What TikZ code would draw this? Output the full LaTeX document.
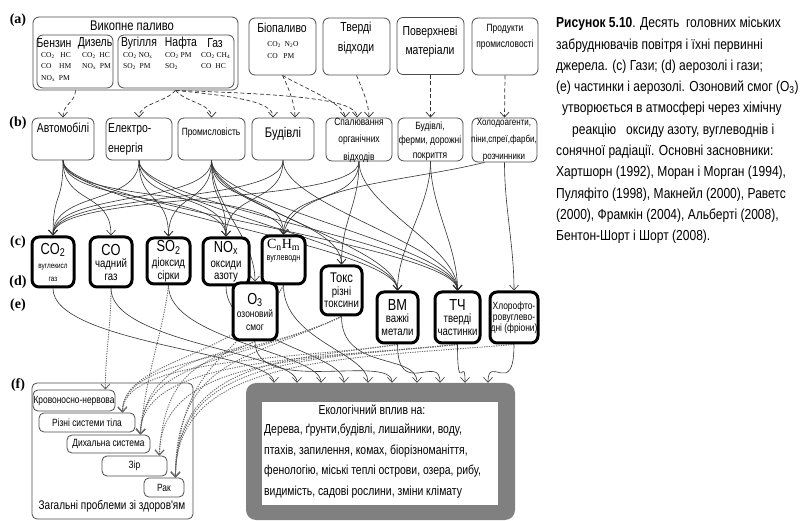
\documentclass[tikz,border=0pt]{standalone}
\usepackage{fontspec}
\usepackage{tikz}
\usetikzlibrary{arrows.meta,backgrounds}
\setmainfont{Liberation Serif}
\newfontfamily\narrow[FakeStretch=0.8]{Liberation Sans}
\newfontfamily\capfont[FakeStretch=0.83]{Liberation Sans}
\newcommand{\fsz}[2]{\fontsize{#1}{#2}\selectfont}
\newcommand{\sbs}[1]{\textsubscript{#1}}

\tikzset{
	srcbox/.style={draw=black!70, line width=0.8pt, rounded corners=6pt, fill=white, inner sep=0pt},
	polbox/.style={draw=black, line width=3pt, rounded corners=7pt, fill=white, inner sep=0pt, align=center, font=\narrow\fsz{12}{12.5}},
	hbox/.style={draw=black!70, line width=0.8pt, rounded corners=5pt, fill=white, inner sep=0pt, font=\narrow\fsz{10.5}{12}},
	txt/.style={inner sep=0pt, align=center, font=\narrow\fsz{13}{15}},
	chem/.style={inner sep=0pt, align=left, anchor=north west, font=\fsz{7.5}{11.5}},
	letter/.style={inner sep=0pt, font=\bfseries\fsz{14}{16}},
	feed/.style={black!80, line width=0.7pt, dash pattern=on 4pt off 2.5pt, -{Straight Barb[length=5pt,width=9pt]}},
	emit/.style={black!80, line width=0.6pt, -{Straight Barb[length=5pt,width=9pt]}},
	harm/.style={black!60, line width=0.9pt, dash pattern=on 1.2pt off 1.2pt, -{Straight Barb[length=5pt,width=9pt]}}
}

\begin{document}
\begin{tikzpicture}[x=1pt,y=-1pt]
	\useasboundingbox (0,0) rectangle (804,521);
	
	% Row letters
	\node[letter] (la) at (18,20) {(a)};
	\node[letter] (lb) at (18,123) {(b)};
	\node[letter] (lc) at (18,242) {(c)};
	\node[letter] (ld) at (18,282) {(d)};
	\node[letter] (le) at (18,305) {(e)};
	\node[letter] (lf) at (18,385) {(f)};
	
	% (a) primary sources
	\node[srcbox, minimum width=205pt, minimum height=73pt] (fossil) at (135.5,53.5) {}; % Fossil fuel frame
	\node[txt, font=\narrow\fsz{14}{16}] (fossilT) at (132,26) {Викопне паливо};
	\node[srcbox, minimum width=76pt, minimum height=53pt] (liquid) at (75,61.5) {};
	\node[srcbox, minimum width=116pt, minimum height=53pt] (solid) at (176,61.5) {};
	\node[txt] (benz) at (54,43) {Бензин};
	\node[txt] (dies) at (95,43) {Дизель};
	\node[txt] (coal) at (139,43) {Вугілля};
	\node[txt] (oil) at (181,43) {Нафта};
	\node[txt] (gas) at (215,43) {Газ};
	\node[chem] (benzC) at (41,52) {CO\sbs{2}\ \ \ HC\\CO\ \ \ \ HM\\NO\sbs{x}\ \ PM};
	\node[chem] (diesC) at (82,52) {CO\sbs{2}\ \ HC\\NO\sbs{x}\ \ PM};
	\node[chem] (coalC) at (123,52) {CO\sbs{2}\ NO\sbs{x}\\SO\sbs{2}\ \ PM};
	\node[chem] (oilC) at (165,52) {CO\sbs{2}\ PM\\SO\sbs{2}};
	\node[chem] (gasC) at (201,52) {CO\sbs{2}\ CH\sbs{4}\\CO\ \ HC};
	
	\node[srcbox, minimum width=67pt, minimum height=57pt] (bio) at (282.5,46.5) {};
	\node[txt] (bioT) at (282,28) {Біопаливо};
	\node[chem, anchor=center] (bioC) at (283,50) {CO\sbs{2}\ \ N\sbs{2}O\\CO\ \ \ PM};
	\node[srcbox, minimum width=67pt, minimum height=57pt] (waste) at (356.5,46.5) {};
	\node[txt, font=\narrow\fsz{13}{20}] (wasteT) at (356,38) {Тверді\\відходи};
	\node[srcbox, minimum width=67pt, minimum height=57pt] (surf) at (430.5,46) {};
	\node[txt, font=\narrow\fsz{13}{19}] (surfT) at (430,42) {Поверхневі\\матеріали};
	\node[srcbox, minimum width=66pt, minimum height=57pt] (prod) at (505,46.5) {};
	\node[txt, font=\narrow\fsz{10.5}{16}] (prodT) at (505,37) {Продукти\\промисловості};
	
	% (b) emitters
	\node[srcbox, minimum width=62pt, minimum height=42pt] (avto) at (63,139) {};
	\node[txt] (avtoT) at (63,128) {Автомобілі};
	\node[srcbox, minimum width=66pt, minimum height=42pt] (elec) at (139,139) {};
	\node[txt, align=left, anchor=west, font=\narrow\fsz{13}{20}] (elecT) at (108,139) {Електро-\\енергія};
	\node[srcbox, minimum width=67pt, minimum height=42pt] (prom) at (211.5,139) {};
	\node[txt, font=\narrow\fsz{10.5}{12}] (promT) at (211,133) {Промисловість};
	\node[srcbox, minimum width=62pt, minimum height=42pt] (bud) at (283,139) {};
	\node[txt, font=\narrow\fsz{14}{16}] (budT) at (283,134) {Будівлі};
	\node[srcbox, minimum width=66pt, minimum height=43pt] (spal) at (359,139.5) {};
	\node[txt, font=\narrow\fsz{10.5}{17.5}] (spalT) at (359,140) {Спалювання\\органічних\\відходів};
	\node[srcbox, minimum width=65pt, minimum height=43pt] (ferm) at (430.5,139.5) {};
	\node[txt, font=\narrow\fsz{10.5}{14.5}] (fermT) at (430,141) {Будівлі,\\ферми, дорожні\\покриття};
	\node[srcbox, minimum width=65pt, minimum height=44pt] (holod) at (504.5,140) {};
	\node[txt, font=\narrow\fsz{10}{17}] (holodT) at (504,140) {Холодоагенти,\\піни,спреї,фарби,\\розчинники};
	
	% (c)-(e) pollutants
	\node[polbox, minimum width=42pt, minimum height=50pt] (co2) at (53,262) {{\fsz{16}{16}CO\sbs{2}}\\[2pt]{\fsz{8}{12}вуглекисл}\\{\fsz{8}{12}газ}};
	\node[polbox, minimum width=42pt, minimum height=50pt] (co) at (111,262) {{\fsz{16}{16}CO}\\чадний\\газ};
	\node[polbox, minimum width=43pt, minimum height=46pt] (so2) at (168.5,261) {{\fsz{16}{16}SO\sbs{2}}\\[2.5pt]діоксид\\сірки};
	\node[polbox, minimum width=46pt, minimum height=47pt] (nox) at (226,261.5) {{\fsz{16}{16}NO\sbs{x}}\\[2.5pt]оксиди\\азоту};
	\node[polbox, minimum width=43pt, minimum height=48pt] (cnhm) at (283.5,260) {{\rmfamily\fsz{14}{16}C\sbs{n}H\sbs{m}}\\{\fsz{9}{14}вуглеводн}\\[8pt]};
	\node[polbox, minimum width=44pt, minimum height=57pt] (oz) at (255,311.5) {{\fsz{16}{16}O\sbs{3}}\\[1pt]{\fsz{10.5}{12}озоновий}\\{\fsz{10.5}{12}смог}};
	\node[polbox, minimum width=41pt, minimum height=49pt] (tox) at (341.5,290.5) {{\fsz{14}{13}Токс}\\різні\\токсини};
	\node[polbox, minimum width=41pt, minimum height=51pt] (vm) at (397.5,317.5) {{\fsz{16}{14}ВМ}\\важкі\\метали};
	\node[polbox, minimum width=45pt, minimum height=51pt] (tch) at (457.5,317.5) {{\fsz{16}{14}ТЧ}\\тверді\\частинки};
	\node[polbox, minimum width=48pt, minimum height=51pt, font=\narrow\fsz{10.5}{11}] (hlor) at (514,317.5) {Хлорофто-\\ровуглево-\\дні (фріони)};
	
	% (f) health
	\node[txt, font=\narrow\fsz{12.5}{14}] (hlthT) at (112,506) {Загальні проблеми зі здоров'ям};
	\node[hbox, minimum width=82pt, minimum height=21pt] (krov) at (74,400.5) {Кровоносно-нервова};
	\node[hbox, minimum width=96pt, minimum height=19pt] (rizn) at (87,422.5) {Різні системи тіла};
	\node[hbox, minimum width=83pt, minimum height=18pt] (dyh) at (108.5,444) {Дихальна система};
	\node[hbox, minimum width=65pt, minimum height=20pt] (zir) at (134.5,466) {Зір};
	\node[hbox, minimum width=40pt, minimum height=19pt] (rak) at (164,487.5) {Рак};
	\coordinate (krovIn) at ([xshift=-10pt]krov.north east);
	\coordinate (riznIn) at ([xshift=-13pt]rizn.north east);
	\coordinate (dyhIn) at ([xshift=-10pt]dyh.north east);
	\coordinate (zirIn) at ([xshift=-8pt]zir.north east);
	\coordinate (rakIn) at ([xshift=-9pt]rak.north east);
	
	% ecological impact
	\node[fill=black!50, rounded corners=10pt, minimum width=269pt, minimum height=137pt, inner sep=0pt] (eco) at (380.5,451.5) {};
	\node[fill=white, minimum width=236pt, minimum height=103pt, inner sep=0pt] (ecoIn) at (380,453.5) {};
	\node[txt] (ecoT) at (372,410) {Екологічний вплив на:};
	\node[txt, align=left, anchor=north west, font=\narrow\fsz{13}{20.5}] (ecoL) at (264,424) {Дерева, ґрунти,будівлі, лишайники, воду,\\птахів, запилення, комах, біорізноманіття,\\фенологію, міські теплі острови, озера, рибу,\\видимість, садові рослини, зміни клімату};
	
	% caption
	\node[inner sep=0pt, align=left, anchor=north west, font=\capfont\fsz{14.5}{21.3}] (cap) at (556,17) {\textbf{Рисунок 5.10}. Десять\ \ головних міських\\забруднювачів повітря і їхні первинні\\джерела. (с) Гази; (d) аерозолі і гази;\\(е) частинки і аерозолі. Озоновий смог (O\sbs{3})\\\hspace*{6pt}утворюється в атмосфері через хімічну\\\hspace*{16pt}реакцію\ \ \ оксиду азоту, вуглеводнів і\\сонячної радіації. Основні засновники:\\Хартшорн (1992), Моран і Морган (1994),\\Пуляфіто (1998), Макнейл (2000), Раветс\\(2000), Фрамкін (2004), Альберті (2008),\\Бентон-Шорт і Шорт (2008).};
	
	\begin{scope}[on background layer]
		\node[hbox, minimum width=161pt, minimum height=136pt] (hlth) at (112.5,451) {}; % Health frame
		
		% sources -> emitters
		\draw[feed] ([xshift=-60pt]fossil.south) .. controls +(0,12) and +(0,-14) .. (avto.north);
		\draw[feed] ([xshift=40pt]fossil.south) .. controls +(-10,12) and +(0,-14) .. (elec.north);
		\draw[feed] ([xshift=40pt]fossil.south) .. controls +(10,12) and +(0,-14) .. (prom.north);
		\draw[feed] ([xshift=40pt]fossil.south) .. controls +(60,6) and +(0,-16) .. ([xshift=-10pt]bud.north);
		\draw[feed] ([xshift=40pt]fossil.south) .. controls +(120,4) and +(0,-18) .. ([xshift=-2pt]spal.north);
		\draw[feed] (bio.south) .. controls +(5,10) and +(0,-14) .. ([xshift=12pt]bud.north);
		\draw[feed] (bio.south) .. controls +(20,12) and +(0,-14) .. ([xshift=-14pt]spal.north);
		\draw[feed] (waste.south) .. controls +(5,12) and +(0,-14) .. ([xshift=10pt]spal.north);
		\draw[feed] (surf.south) -- (ferm.north);
		\draw[feed] (prod.south) -- (holod.north);
		
		% emitters -> pollutants
		\foreach \src/\dst in {avto/co2, avto/co, avto/nox, avto/cnhm, avto/vm, avto/tch,
			elec/co2, elec/so2, elec/nox, elec/vm, elec/tch,
			prom/co2, prom/so2, prom/nox, prom/cnhm, prom/tox, prom/vm, prom/tch, prom/oz,
			bud/co2, bud/nox, bud/tch,
			spal/co2, spal/cnhm, spal/tox, spal/tch,
			ferm/vm, ferm/tch, holod/hlor}
			\draw[emit] (\src.south) .. controls +(0,45) and +(0,-45) .. (\dst.north);
		\draw[emit] ([xshift=-20pt]holod.south) .. controls +(-80,20) and +(10,-50) .. (cnhm.north);
		
		% pollutants -> ecology
		\foreach \src/\dx in {co2/-106.5pt, co/-83.5pt, so2/-59.5pt, nox/-36.5pt, cnhm/-12.5pt, oz/11.5pt, tox/36.5pt, vm/59.5pt, tch/84.5pt, hlor/107.5pt}
			\draw[emit] (\src.south) .. controls +(0,55) and +(0,-30) .. ([xshift=\dx]eco.north);
		
		% pollutants -> health
		\draw[harm] (co.south) .. controls +(0,40) and +(0,-40) .. (krovIn);
		\draw[harm] (so2.south) .. controls +(-5,45) and +(5,-60) .. (dyhIn);
		\draw[harm] (cnhm.south) .. controls +(-40,74) and +(0,-55) .. (riznIn);
		\draw[harm] (cnhm.south) .. controls +(-45,74) and +(5,-120) .. (rakIn);
		\draw[harm] (oz.south) .. controls +(-40,18) and +(5,-77) .. (dyhIn);
		\draw[harm] (oz.south) .. controls +(-35,18) and +(5,-98) .. (zirIn);
		\draw[harm] (tox.south) .. controls +(-90,43) and +(0,-55) .. (riznIn);
		\draw[harm] (tox.south) .. controls +(-90,43) and +(0,-77) .. (dyhIn);
		\draw[harm] (tox.south) .. controls +(-90,43) and +(0,-120) .. (rakIn);
		\draw[harm] (vm.south) .. controls +(-100,15) and +(0,-55) .. (riznIn);
		\draw[harm] (vm.south) .. controls +(-100,15) and +(0,-120) .. (rakIn);
		\draw[harm] (tch.south) .. controls +(-150,15) and +(0,-77) .. (dyhIn);
		\draw[harm] (tch.south) .. controls +(-150,15) and +(0,-98) .. (zirIn);
		\draw[harm] (tch.south) .. controls +(-150,15) and +(0,-120) .. (rakIn);
		\draw[harm] (hlor.south) .. controls +(-180,15) and +(0,-120) .. (rakIn);
	\end{scope}
\end{tikzpicture}
\end{document}
